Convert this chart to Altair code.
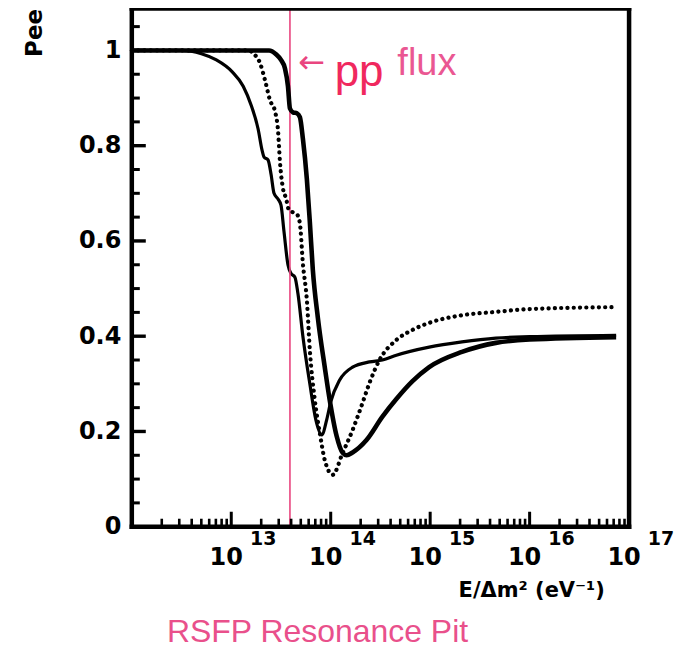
import altair as alt
import pandas as pd

# ---- data (log10 of E/dm^2, Pee) ----
thin_lx = [12.00, 12.50, 12.70, 12.85, 13.01, 13.12, 13.20, 13.27, 13.31, 13.33, 13.37, 13.40,
           13.43, 13.47, 13.50, 13.53, 13.57, 13.60, 13.64, 13.67, 13.72, 13.79, 13.85, 13.91,
           13.96, 14.00, 14.09, 14.22, 14.39, 14.52, 14.66, 14.99, 15.32, 15.66, 16.00, 16.87]
thin_p = [1.000, 1.000, 0.993, 0.980, 0.955, 0.925, 0.885, 0.835, 0.790, 0.776, 0.770, 0.740,
          0.700, 0.688, 0.675, 0.620, 0.550, 0.532, 0.524, 0.490, 0.400, 0.300, 0.225, 0.193,
          0.225, 0.262, 0.308, 0.335, 0.346, 0.350, 0.360, 0.377, 0.388, 0.396, 0.399, 0.402]

thick_lx = [12.00, 13.38, 13.45, 13.50, 13.54, 13.57, 13.59, 13.62, 13.66, 13.69, 13.72, 13.76,
            13.79, 13.82, 13.87, 13.94, 13.99, 14.06, 14.12, 14.16, 14.22, 14.36, 14.52, 14.66,
            14.82, 14.99, 15.32, 15.66, 16.00, 16.87]
thick_p = [1.000, 1.000, 0.992, 0.980, 0.962, 0.925, 0.878, 0.870, 0.868, 0.860, 0.815, 0.730,
           0.640, 0.540, 0.440, 0.335, 0.266, 0.190, 0.155, 0.150, 0.156, 0.182, 0.231, 0.268,
           0.305, 0.335, 0.367, 0.386, 0.393, 0.398]

dot_lx = [12.00, 13.18, 13.22, 13.29, 13.34, 13.39, 13.44, 13.47, 13.49, 13.52, 13.55, 13.58,
          13.62, 13.66, 13.69, 13.72, 13.76, 13.79, 13.84, 13.89, 13.94, 14.02, 14.12, 14.22,
          14.32, 14.39, 14.49, 14.66, 14.82, 14.99, 15.32, 15.66, 16.00, 16.87]
dot_p = [1.000, 1.000, 0.994, 0.973, 0.937, 0.895, 0.872, 0.832, 0.765, 0.710, 0.690, 0.665,
         0.660, 0.656, 0.637, 0.553, 0.476, 0.371, 0.266, 0.197, 0.140, 0.109, 0.155, 0.203,
         0.260, 0.302, 0.350, 0.392, 0.413, 0.428, 0.444, 0.451, 0.457, 0.461]

pp_line_lx = [13.59]

y_major = [0, 0.2, 0.4, 0.6, 0.8, 1.0]
y_minor = [0.05, 0.1, 0.15, 0.25, 0.3, 0.35, 0.45, 0.5, 0.55, 0.65, 0.7, 0.75,
           0.85, 0.9, 0.95, 1.05]
x_decades = [12, 13, 14, 15, 16, 17]
x_minor_mult = [2, 3, 4, 5, 6, 7, 8, 9]
x_label_exps = ["13", "14", "15", "16", "17"]

# annotation anchors (log10 x, Pee)
arrow_pos = [13.807, 0.973]
pp_pos = [14.04, 0.925]
flux_pos = [14.67, 0.948]

PINK = "#e9457f"
W, H = 498, 519
PX_PER_DECADE = W / 5.0
PX_PER_UNIT = 477.0
YMAX = H / PX_PER_UNIT

# tick lengths (px) turned into data-space ends so they go through the scales
YMAJ_LEN, YMIN_LEN, XMAJ_LEN, XMIN_LEN = 14, 8, 15, 8

def curve(lx, p):
    return pd.DataFrame({"E": [10 ** v for v in lx], "P": p})

xs = alt.Scale(type="log", domain=[1e12, 1e17], nice=False)
ys = alt.Scale(domain=[0, YMAX], nice=False, zero=False)

x_enc = alt.X("E:Q", scale=xs,
              axis=alt.Axis(labels=False, ticks=False, domain=False, grid=False,
                            title="E/Δm² (eV⁻¹)", titleX=400, titleY=64,
                            titleAlign="center", titleBaseline="middle",
                            titleFont="DejaVu Sans", titleFontSize=21,
                            titleFontWeight="bold", titleColor="black"))
y_enc = alt.Y("P:Q", scale=ys,
              axis=alt.Axis(values=y_major, ticks=False, domain=False, grid=False,
                            labelExpr="datum.value == 0 ? '0' : datum.value == 1 ? '1' : format(datum.value, '.1f')",
                            labelFont="DejaVu Sans", labelFontWeight="bold", labelFontSize=24,
                            labelColor="black", labelPadding=11,
                            title="Pee", titleX=-97, titleY=24, titleAngle=-90,
                            titleAlign="center", titleBaseline="middle",
                            titleFont="DejaVu Sans", titleFontSize=23,
                            titleFontWeight="bold", titleColor="black"))

thin = alt.Chart(curve(thin_lx, thin_p)).mark_line(
    color="black", strokeWidth=3.2, interpolate="monotone").encode(x=x_enc, y=y_enc)
thick = alt.Chart(curve(thick_lx, thick_p)).mark_line(
    color="black", strokeWidth=4.6, interpolate="monotone").encode(x="E:Q", y="P:Q")
dotted = alt.Chart(curve(dot_lx, dot_p)).mark_line(
    color="black", strokeWidth=4.2, strokeDash=[0.1, 6.2], strokeCap="round",
    interpolate="monotone").encode(x="E:Q", y="P:Q")

ppline = alt.Chart(pd.DataFrame({"E": [10 ** v for v in pp_line_lx]})).mark_rule(
    color=PINK, strokeWidth=1.6).encode(x="E:Q")

# y ticks: from the left edge inward
def ytick_df(vals, length):
    return pd.DataFrame({"P": vals, "E": [1e12] * len(vals),
                         "E2": [10 ** (12 + length / PX_PER_DECADE)] * len(vals)})

def xtick_df(vals, length):
    return pd.DataFrame({"E": vals, "P": [0.0] * len(vals),
                         "P2": [length / PX_PER_UNIT] * len(vals)})

ymaj = alt.Chart(ytick_df(y_major, YMAJ_LEN)).mark_rule(color="black", strokeWidth=3.4).encode(
    x="E:Q", x2="E2:Q", y="P:Q")
ymin = alt.Chart(ytick_df(y_minor, YMIN_LEN)).mark_rule(color="black", strokeWidth=3.0).encode(
    x="E:Q", x2="E2:Q", y="P:Q")
xmaj = alt.Chart(xtick_df([10.0 ** d for d in x_decades], XMAJ_LEN)).mark_rule(
    color="black", strokeWidth=3.0).encode(x="E:Q", y="P:Q", y2="P2:Q")
xmin = alt.Chart(xtick_df([m * 10.0 ** d for d in x_decades[:-1] for m in x_minor_mult], XMIN_LEN)).mark_rule(
    color="black", strokeWidth=2.6).encode(x="E:Q", y="P:Q", y2="P2:Q")

# frame
frame_df = pd.DataFrame({"k": ["frame"]})
left_b = alt.Chart(frame_df).mark_rule(color="black", strokeWidth=4.5, strokeCap="square").encode(
    x=alt.value(0), y=alt.value(0), y2=alt.value(H))
bottom_b = alt.Chart(frame_df).mark_rule(color="black", strokeWidth=4.5, strokeCap="square").encode(
    x=alt.value(0), x2=alt.value(W), y=alt.value(H))
top_b = alt.Chart(frame_df).mark_rule(color="black", strokeWidth=4.5, strokeCap="square").encode(
    x=alt.value(0), x2=alt.value(W), y=alt.value(0))
right_b = alt.Chart(frame_df).mark_rule(color="black", strokeWidth=4.5, strokeCap="square").encode(
    x=alt.value(W), y=alt.value(0), y2=alt.value(H))

lab_df = pd.DataFrame({"E": [10.0 ** int(e) for e in x_label_exps], "exp": x_label_exps,
                       "ten": ["10"] * len(x_label_exps), "P": [0] * len(x_label_exps)})
ten = alt.Chart(lab_df).mark_text(font="DejaVu Sans", fontWeight="bold", fontSize=24,
                                  align="center", baseline="middle", dx=-5, dy=31,
                                  color="black").encode(x="E:Q", y="P:Q", text="ten:N")
exps = alt.Chart(lab_df).mark_text(font="DejaVu Sans", fontWeight="bold", fontSize=19,
                                   align="center", baseline="middle", dx=32, dy=12,
                                   color="black").encode(x="E:Q", y="P:Q", text="exp:N")

ann = pd.DataFrame({
    "E": [10 ** arrow_pos[0], 10 ** pp_pos[0], 10 ** flux_pos[0]],
    "P": [arrow_pos[1], pp_pos[1], flux_pos[1]],
    "t": ["←", "pp", "flux"],
})
arrow = alt.Chart(ann.iloc[[0]]).mark_text(font="DejaVu Sans", fontSize=32, color=PINK,
                                           align="center", baseline="middle").encode(
    x="E:Q", y="P:Q", text="t:N")
pp = alt.Chart(ann.iloc[[1]]).mark_text(font="Liberation Sans", fontSize=44, color="#f0285e",
                                        align="left", baseline="alphabetic").encode(
    x="E:Q", y="P:Q", text="t:N")
flux = alt.Chart(ann.iloc[[2]]).mark_text(font="Liberation Sans", fontSize=38, color="#ea5792",
                                          align="left", baseline="alphabetic").encode(
    x="E:Q", y="P:Q", text="t:N")

title = alt.Chart(pd.DataFrame({"t": ["RSFP Resonance Pit"]})).mark_text(
    font="Liberation Sans", fontSize=32, color="#e9508b", align="center",
    baseline="middle").encode(x=alt.value(186), y=alt.value(624), text="t:N")

chart = alt.layer(
    thin, ppline, thick, dotted, ymaj, ymin, xmaj, xmin,
    left_b, bottom_b, top_b, right_b,
    ten, exps, arrow, pp, flux, title
).properties(
    width=W, height=H,
    autosize=alt.AutoSizeParams(type="none"),
    padding={"left": 124, "top": 0, "right": 50, "bottom": 140},
).configure(background="white")

chart.save("out.html", embed_options={"renderer": "svg", "actions": False})
